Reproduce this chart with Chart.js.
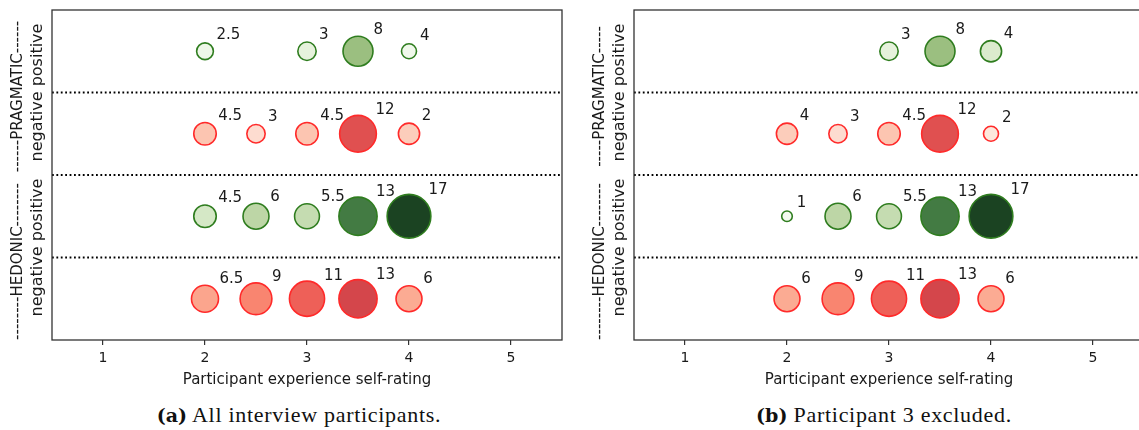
<!DOCTYPE html>
<html>
<head>
<meta charset="utf-8">
<script src="https://cdn.jsdelivr.net/npm/chart.js@4.4.1/dist/chart.umd.min.js"></script>
<style>
  html, body { margin: 0; padding: 0; background: #fff; overflow: hidden; width: 1139px; height: 430px; }
  .panel { position: absolute; top: 0; height: 400px; }
  #wrapA { left: 0; width: 570px; }
  #wrapB { left: 575px; width: 575px; }
  .caption { position: absolute; top: 402px; width: 500px; font-family: "Liberation Serif", "DejaVu Serif", serif; font-size: 22px; letter-spacing: 0.7px; color: #111; text-align: center; white-space: nowrap; }
  .caption b { font-family: "DejaVu Serif", serif; font-size: 19px; letter-spacing: 0; }
</style>
</head>
<body>
<div class="panel" id="wrapA"><canvas id="chartA" width="570" height="400"></canvas></div>
<div class="panel" id="wrapB"><canvas id="chartB" width="575" height="400"></canvas></div>
<div class="caption" style="left:49px"><b>(a)</b> All interview participants.</div>
<div class="caption" style="left:634px"><b>(b)</b> Participant 3 excluded.</div>

<script>
// rows from top to bottom: PRAGMATIC positive, PRAGMATIC negative, HEDONIC positive, HEDONIC negative
const rowSign = ["positive", "negative", "positive", "negative"];
const groupNames = ["PRAGMATIC", "HEDONIC"];
const xTicks = [1, 2, 3, 4, 5];
const dividers = [0.5, 1.5, 2.5];

// (a) all interview participants
const aPragPosX = [2, 3, 3.5, 4];
const aPragPosVal = [2.5, 3, 8, 2];
const aPragPosLbl = [2.5, 3, 8, 4];
const aPragNegX = [2, 2.5, 3, 3.5, 4];
const aPragNegVal = [4.5, 3, 4.5, 12, 4];
const aPragNegLbl = [4.5, 3, 4.5, 12, 2];
const aHedPosX = [2, 2.5, 3, 3.5, 4];
const aHedPosVal = [4.5, 6, 5.5, 13, 17];
const aHedNegX = [2, 2.5, 3, 3.5, 4];
const aHedNegVal = [6.5, 9, 11, 13, 6];

// (b) participant 3 excluded
const bPragPosX = [3, 3.5, 4];
const bPragPosVal = [3, 8, 4];
const bPragNegX = [2, 2.5, 3, 3.5, 4];
const bPragNegVal = [4, 3, 4.5, 12, 2];
const bHedPosX = [2, 2.5, 3, 3.5, 4];
const bHedPosVal = [1, 6, 5.5, 13, 17];
const bHedNegX = [2, 2.5, 3, 3.5, 4];
const bHedNegVal = [6, 9, 11, 13, 6];

// colour ramps
const greens = [[0, "#f7fcf5"], [2.5, "#eef7e8"], [3, "#e6f2dc"], [4.5, "#d5e8c6"], [6, "#bdd6a6"], [8, "#9bbf80"], [13, "#437b43"], [17, "#1b4322"]];
const reds = [[0, "#fff5f0"], [2, "#fde8dc"], [3, "#fddcd0"], [4.5, "#fcc5b1"], [6, "#fbab93"], [9, "#f98570"], [11, "#ee6058"], [12, "#e05050"], [13, "#d4464b"]];

function hexRgb(h) {
  return [1, 3, 5].map((i) => parseInt(h.slice(i, i + 2), 16));
}

function ramp(stops, v) {
  if (v <= stops[0][0]) return stops[0][1];
  for (let i = 1; i < stops.length; i++) {
    if (v <= stops[i][0]) {
      const t = (v - stops[i - 1][0]) / (stops[i][0] - stops[i - 1][0]);
      const a = hexRgb(stops[i - 1][1]);
      const b = hexRgb(stops[i][1]);
      const c = a.map((x, k) => Math.round(x + (b[k] - x) * t));
      return "rgb(" + c.join(",") + ")";
    }
  }
  return stops[stops.length - 1][1];
}

const textColor = "#1a1a1a";

const valueLabels = {
  id: "valueLabels",
  afterDatasetsDraw(chart) {
    const ctx = chart.ctx;
    ctx.save();
    ctx.font = '15px "DejaVu Sans"';
    ctx.fillStyle = textColor;
    ctx.textAlign = "left";
    ctx.textBaseline = "middle";
    chart.data.datasets.forEach((ds, i) => {
      if (!ds.labels) return;
      chart.getDatasetMeta(i).data.forEach((el, j) => {
        const r = el.options.radius + 0.75;
        ctx.fillText(String(ds.labels[j]), el.x + 0.6 * r + 6, el.y - (0.75 * r + 9));
      });
    });
    ctx.restore();
  },
};

const frameAndRows = {
  id: "frameAndRows",
  afterDraw(chart, args, opts) {
    const ctx = chart.ctx;
    const area = chart.chartArea;
    ctx.save();
    ctx.strokeStyle = "#333";
    ctx.lineWidth = 1.3;
    ctx.strokeRect(area.left, area.top, area.right - area.left, area.bottom - area.top);

    const ys = chart.scales.y;
    ctx.fillStyle = textColor;
    ctx.textAlign = "center";
    ctx.textBaseline = "middle";
    groupNames.forEach((name, g) => {
      const mid = ys.getPixelForValue(2 * g + 0.5);
      const dash = "-".repeat(opts.dashes[g]);
      ctx.save();
      ctx.translate(area.left - 34, mid + 4);
      ctx.rotate(-Math.PI / 2);
      ctx.font = '15px "DejaVu Sans"';
      ctx.fillText(dash + name + dash, 0, 0);
      ctx.restore();
      ctx.save();
      ctx.translate(area.left - 14, mid + opts.innerShift[g]);
      ctx.rotate(-Math.PI / 2);
      ctx.font = '16px "DejaVu Sans"';
      ctx.fillText(rowSign[2 * g + 1] + " " + rowSign[2 * g], 0, 0);
      ctx.restore();
    });
    ctx.restore();
  },
};

function makeChart(id, rows, padLeft, padRight, dashes) {
  const datasets = rows.map((row, i) => {
    const pos = rowSign[i] === "positive";
    return {
      type: "bubble",
      data: row.x.map((x, j) => ({ x: x, y: i, r: 5.3 * Math.sqrt(row.v[j]) })),
      labels: row.lbl || row.v,
      backgroundColor: row.v.map((v) => ramp(pos ? greens : reds, v)),
      borderColor: pos ? "#2f7d1f" : "#ff2a2a",
      borderWidth: 1.6,
    };
  });
  dividers.forEach((d) => {
    datasets.push({
      type: "line",
      data: [{ x: 0.5, y: d }, { x: 5.5, y: d }],
      borderColor: "#000",
      borderWidth: 2,
      borderDash: [1.8, 2.6],
      pointRadius: 0,
      fill: false,
    });
  });

  return new Chart(document.getElementById(id), {
    type: "bubble",
    data: { datasets: datasets },
    plugins: [valueLabels, frameAndRows],
    options: {
      responsive: false,
      animation: false,
      layout: { autoPadding: false, padding: { left: padLeft, right: padRight, top: 10, bottom: 10 } },
      plugins: {
        legend: { display: false },
        tooltip: { enabled: false },
        frameAndRows: { dashes: dashes, innerShift: [0, -10] },
      },
      scales: {
        x: {
          type: "linear",
          min: 0.5,
          max: 5.5,
          afterBuildTicks: (s) => {
            s.ticks = xTicks.map((v) => ({ value: v }));
          },
          afterFit: (s) => {
            s.height = 50;
          },
          border: { display: false },
          grid: { drawOnChartArea: false, drawTicks: true, tickLength: 5, color: "#333", lineWidth: 1.2 },
          ticks: { color: textColor, font: { family: "DejaVu Sans", size: 14 }, padding: 5 },
          title: {
            display: true,
            text: "Participant experience self-rating",
            color: textColor,
            font: { family: "DejaVu Sans", size: 15 },
            padding: { top: 2, bottom: 1 },
          },
        },
        y: {
          type: "linear",
          display: false,
          min: -0.5,
          max: 3.5,
          reverse: true,
        },
      },
    },
  });
}

makeChart("chartA", [
  { x: aPragPosX, v: aPragPosVal, lbl: aPragPosLbl },
  { x: aPragNegX, v: aPragNegVal, lbl: aPragNegLbl },
  { x: aHedPosX, v: aHedPosVal },
  { x: aHedNegX, v: aHedNegVal },
], 52, 8, [6, 8]);

makeChart("chartB", [
  { x: bPragPosX, v: bPragPosVal },
  { x: bPragNegX, v: bPragNegVal },
  { x: bHedPosX, v: bHedPosVal },
  { x: bHedNegX, v: bHedNegVal },
], 59, 6, [5, 8]);
</script>
</body>
</html>
